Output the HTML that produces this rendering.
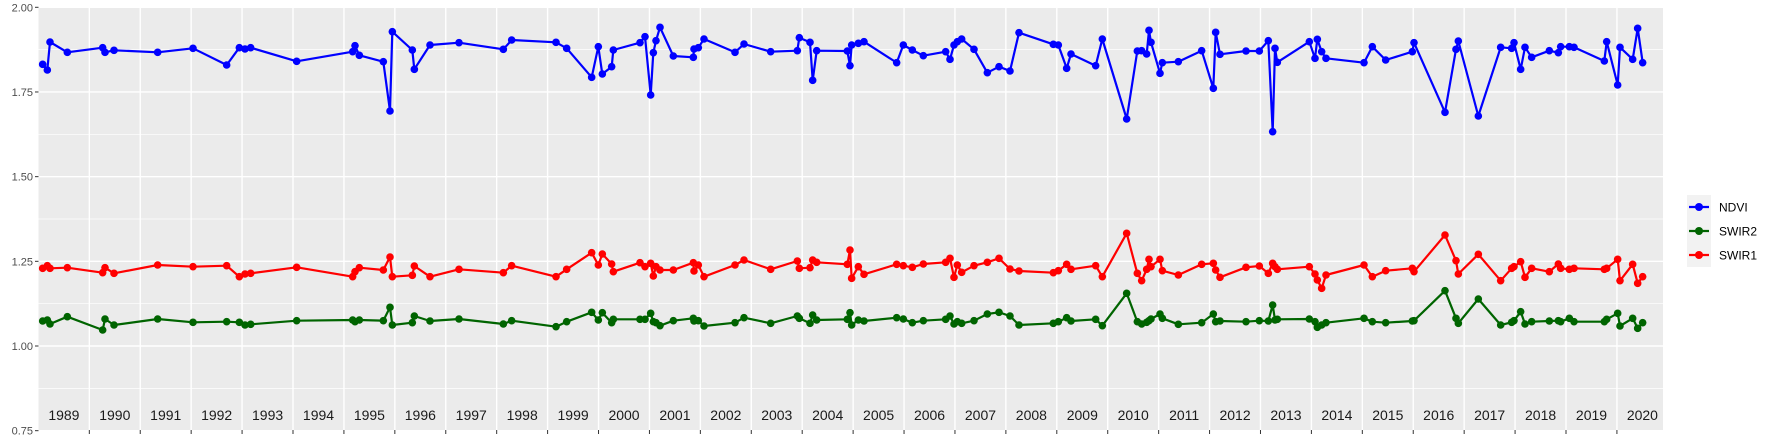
<!DOCTYPE html>
<html><head><meta charset="utf-8"><style>
html,body{margin:0;padding:0;background:#fff;}
svg{display:block;font-family:"Liberation Sans",Arial,sans-serif;}
</style></head><body>
<svg id="s" width="1773" height="442" xmlns="http://www.w3.org/2000/svg"></svg>
<script>
const s=document.getElementById('s');
const NS='http://www.w3.org/2000/svg';
function el(t,a,txt){const e=document.createElementNS(NS,t);for(const k in a)e.setAttribute(k,a[k]);if(txt!=null)e.textContent=txt;s.appendChild(e);return e;}
const L=38.5,R=1663,T=7.3,B=430;
const yv=v=>T+(2-v)*338.7;
el('rect',{x:L,y:T,width:R-L,height:B-T,fill:'#ebebeb'});
// minor horizontal
[1.875,1.625,1.375,1.125,0.875].forEach(v=>el('line',{x1:L,x2:R,y1:yv(v),y2:yv(v),stroke:'#fff','stroke-width':0.7}));
[2,1.75,1.5,1.25,1.0,0.75].forEach(v=>{el('line',{x1:L,x2:R,y1:yv(v),y2:yv(v),stroke:'#fff','stroke-width':1.4});
 el('line',{x1:35,x2:38.5,y1:yv(v),y2:yv(v),stroke:'#333','stroke-width':1});
 el('text',{x:33,y:yv(v)+4,'text-anchor':'end','font-size':11,fill:'#4d4d4d'},v.toFixed(2));});
const yx=y=>38.4+(y-1989)*50.92;
for(let y=1990;y<=2020;y++){const x=yx(y);el('line',{x1:x,x2:x,y1:T,y2:B,stroke:'#fff','stroke-width':1.4});
 el('line',{x1:x,x2:x,y1:B,y2:B+4,stroke:'#333','stroke-width':1});}
for(let y=1989;y<=2020;y++){el('text',{x:yx(y)+25.5,y:420,'text-anchor':'middle','font-size':14,fill:'#1a1a1a'},String(y));}
// data: [offset, [[zx,zy],...]]
const blue=[[30,[[38,193],[52,210],[60,126],[112,157],[218,143],[225,157],[252,151],[383,157],[489,145],[590,195],[628,143],[645,147],[662,143],[800,184],[968,155],[975,137],[988,166],[1060,185],[1080,333],[1087,95],[1147,150],[1153,208],[1200,135]]],
[440,[[57,128],[190,148],[215,120],[348,127],[380,145],[455,232],[475,140],[487,222],[515,200],[520,150],[600,128],[615,110],[632,285],[640,158],[648,122],[660,82],[700,168],[760,172],[762,147],[775,143],[792,117],[885,157],[912,132],[992,155],[1072,152],[1078,113],[1110,127],[1118,241],[1130,152],[1222,153],[1230,197],[1235,135],[1255,130]]],
[850,[[42,125],[140,188],[160,135],[187,150],[220,167],[287,155],[300,178],[312,135],[322,125],[335,117],[372,148],[412,218],[447,200],[480,213],[507,98],[610,133],[625,135],[650,205],[663,162],[737,197],[757,117],[830,357],[862,153],[875,152],[890,162],[897,91],[903,127],[930,220],[937,188],[985,185],[1055,152],[1090,265],[1097,97],[1110,163],[1188,153],[1228,153]]],
[1260,[[25,122],[38,395],[45,145],[52,187],[148,125],[165,175],[172,118],[185,155],[198,175],[312,188],[337,140],[377,180],[457,155],[462,128],[555,337],[588,148],[595,123],[655,348],[722,142],[755,145],[762,128],[782,208],[795,142],[815,172],[868,152],[895,158],[902,140],[928,140],[942,142],[1033,183],[1040,125],[1073,255],[1080,142],[1118,178],[1133,85],[1148,188]]]];
const red=[[30,[[38,805],[52,797],[60,805],[112,803],[218,818],[225,803],[252,820],[383,795],[489,800],[590,797],[628,830],[645,822],[662,820],[800,802],[968,830],[975,815],[988,803],[1060,810],[1080,771],[1087,830],[1147,826],[1153,798],[1200,830]]],
[440,[[57,808],[190,818],[215,797],[348,830],[380,808],[455,758],[475,795],[487,762],[515,792],[520,815],[600,788],[615,800],[632,790],[640,828],[648,800],[660,810],[700,810],[760,788],[762,813],[775,795],[792,830],[885,795],[912,780],[992,808],[1072,783],[1078,805],[1110,803],[1118,780],[1130,787],[1222,793],[1230,750],[1235,835],[1255,800]]],
[850,[[42,823],[140,793],[160,797],[187,802],[220,792],[287,787],[300,775],[312,832],[322,795],[335,817],[372,797],[412,787],[447,775],[480,807],[507,813],[610,818],[625,812],[650,793],[663,808],[737,797],[757,830],[830,700],[862,820],[875,842],[890,808],[897,778],[903,800],[930,778],[937,812],[985,825],[1055,793],[1090,790],[1097,810],[1110,832],[1188,802],[1228,798]]],
[1260,[[25,820],[38,790],[45,800],[52,808],[148,800],[165,822],[172,840],[185,865],[198,825],[312,795],[337,830],[377,812],[457,805],[462,815],[555,705],[588,782],[595,822],[655,763],[722,842],[755,805],[762,800],[782,785],[795,832],[815,805],[868,815],[895,792],[902,805],[928,808],[942,805],[1033,808],[1040,805],[1073,778],[1080,842],[1118,793],[1133,850],[1148,830]]]];
const green=[[30,[[38,963],[52,960],[60,972],[112,950],[218,990],[225,957],[252,975],[383,957],[489,967],[590,965],[628,967],[645,975],[662,973],[800,962],[968,960],[975,965],[988,960],[1060,962],[1080,922],[1087,975],[1147,968],[1153,948],[1200,963]]],
[440,[[57,957],[190,972],[215,962],[348,980],[380,965],[455,937],[475,960],[487,938],[515,968],[520,958],[600,958],[615,958],[632,940],[640,965],[648,968],[660,977],[700,962],[760,955],[762,963],[775,962],[792,978],[885,968],[912,953],[992,970],[1072,948],[1078,955],[1110,970],[1118,945],[1130,960],[1222,958],[1230,938],[1235,975],[1255,960]]],
[850,[[42,963],[140,953],[160,957],[187,968],[220,962],[287,958],[300,948],[312,972],[322,965],[335,970],[372,962],[412,942],[447,937],[480,948],[507,975],[610,970],[625,965],[650,953],[663,963],[737,958],[757,977],[830,880],[862,965],[875,972],[890,967],[897,962],[903,957],[930,942],[937,955],[985,973],[1055,968],[1090,942],[1097,965],[1110,963],[1188,965],[1228,962]]],
[1260,[[25,963],[38,915],[45,960],[52,958],[148,957],[165,965],[172,982],[185,975],[198,968],[312,955],[337,965],[377,968],[457,963],[462,962],[555,872],[588,955],[595,970],[655,897],[722,975],[755,967],[762,962],[782,935],[795,972],[815,965],[868,963],[895,962],[902,965],[928,955],[942,965],[1033,965],[1040,958],[1073,940],[1080,978],[1118,955],[1133,985],[1148,968]]]];
function draw(data,col){const pts=[];data.forEach(([o,a])=>a.forEach(([x,y])=>pts.push([o+x/3,y/3])));
 el('polyline',{points:pts.map(p=>p[0].toFixed(1)+','+p[1].toFixed(1)).join(' '),fill:'none',stroke:col,'stroke-width':2.2,'stroke-linejoin':'round'});
 pts.forEach(p=>el('circle',{cx:p[0],cy:p[1],r:3.8,fill:col}));}
draw(green,'#006400');draw(red,'#ff0000');draw(blue,'#0000ff');
// legend
el('rect',{x:1687,y:195,width:24,height:72,fill:'#f2f2f2'});
[['NDVI','#0000ff',207],['SWIR2','#006400',231],['SWIR1','#ff0000',255]].forEach(([t,c,y])=>{
 el('line',{x1:1689,x2:1709,y1:y,y2:y,stroke:c,'stroke-width':2.2});
 el('circle',{cx:1699,cy:y,r:4,fill:c});
 el('text',{x:1719,y:y+4.5,'font-size':12,fill:'#000'},t);});
</script>
</body></html>
